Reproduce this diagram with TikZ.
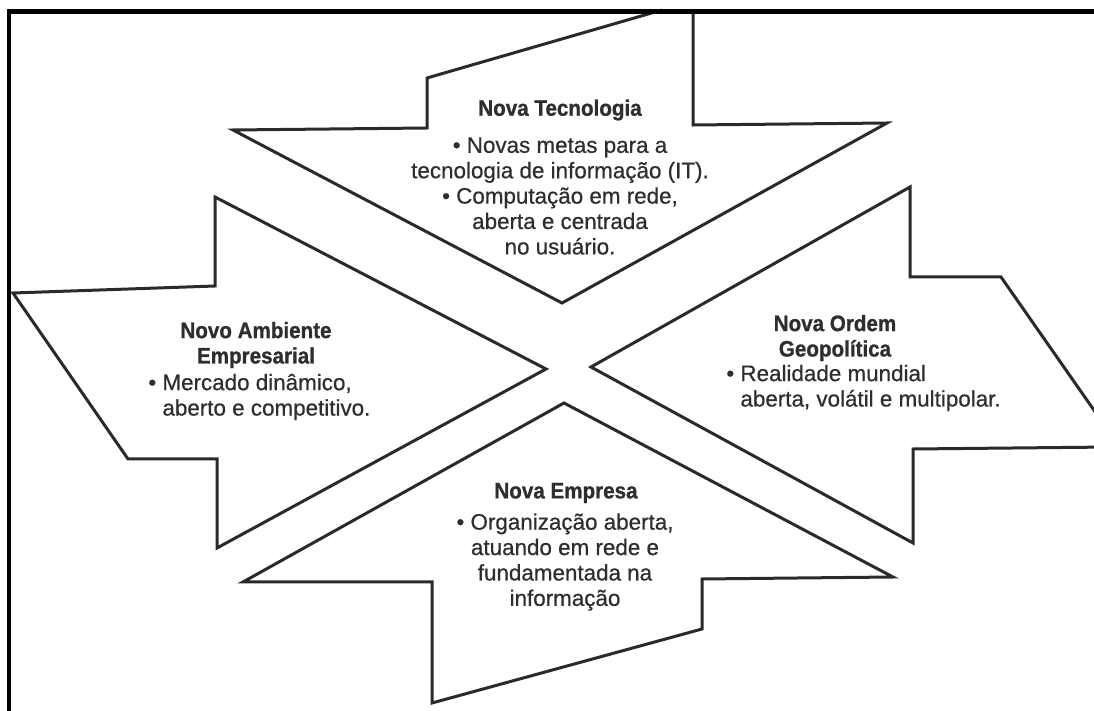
\documentclass[tikz,border=0pt]{standalone}
\usepackage{fontspec}
\setmainfont{Liberation Sans}
\newfontfamily\bodyfont{Liberation Sans}[FakeBold=0.6]
\newfontfamily\headfont{Liberation Sans}[FakeStretch=0.92, FakeBold=0.9]
\definecolor{linegray}{HTML}{2A2A2A}
\definecolor{ink}{HTML}{2E2E2E}
\begin{document}
\begin{tikzpicture}[x=0.5pt,y=-0.5pt,
  outline/.style={draw=linegray, line width=1.5pt, line join=miter},
  frame/.style={draw=black, line width=2.3pt},
  title/.style={font=\headfont\bfseries\fontsize{11.2}{12.7}\selectfont, text=ink, align=center, inner sep=0pt},
  body/.style={font=\bodyfont\fontsize{11.2}{12.7}\selectfont, text=ink, inner sep=0pt},
]
% page area
\fill[white] (0,0) rectangle (1094,711);
\path[use as bounding box] (0,0) rectangle (1094,711);

\begin{scope}
\clip (0,0) rectangle (1094,711);

% arrow from the top: Nova Tecnologia
\draw[outline] (662,10) -- (427,78) -- (427,128) -- (233,130) -- (562,303)
  -- (887,123) -- (693,125) -- (693,10);

% arrow from the left: Novo Ambiente Empresarial
\draw[outline] (13,293) -- (215,286) -- (215,197) -- (546,369) -- (217,548)
  -- (217,459) -- (128,459) -- cycle;

% arrow from the right: Nova Ordem Geopolitica
\draw[outline] (1112,436) -- (1001,277) -- (910,277) -- (910,187) -- (591,367)
  -- (913,543) -- (913,449) -- (1112,447);

% arrow from the bottom: Nova Empresa
\draw[outline] (564,403) -- (893,577) -- (702,579) -- (702,629) -- (432,703)
  -- (432,582) -- (243,582) -- cycle;

% frame along the top and left edges
\draw[frame] (9,711) -- (9,11.5) -- (1100,11.5);
\end{scope}

% texts
\node[title] (techtitle) at (560,110) {Nova Tecnologia};
\node[body, align=center] (techbody) at (560,196)
  {• Novas metas para a\\tecnologia de informação (IT).\\• Computação em rede,\\aberta e centrada\\no usuário.};

\node[title] (envtitle) at (256,345) {Novo Ambiente\\Empresarial};
\node[body, align=left, anchor=west] (envbody) at (148,397)
  {• Mercado dinâmico,\\\hphantom{• }aberto e competitivo.};

\node[title] (geotitle) at (835,338) {Nova Ordem\\Geopolítica};
\node[body, align=left, anchor=west] (geobody) at (726,388)
  {• Realidade mundial\\\hphantom{• }aberta, volátil e multipolar.};

\node[title] (firmtitle) at (566,493) {Nova Empresa};
\node[body, align=center] (firmbody) at (565,562)
  {• Organização aberta,\\atuando em rede e\\fundamentada na\\informação};
\end{tikzpicture}
\end{document}
